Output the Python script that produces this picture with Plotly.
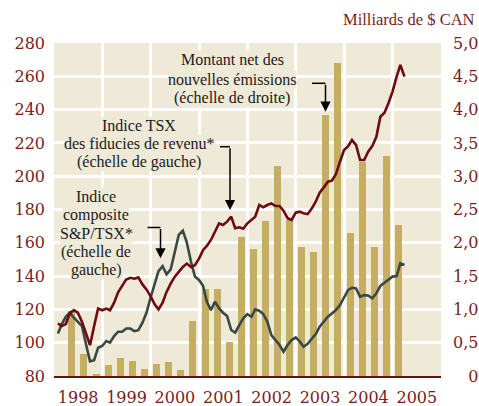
import pandas as pd
import plotly.graph_objects as go

# ---- data -------------------------------------------------------------
# Monthly index levels (left scale), Jan 1998 .. Mar 2005
income_trust_index = [
    111.6, 110.0, 111.2, 117.6, 119.6, 118.0, 112.6, 106.0, 98.5, 110.0, 120.5, 119.5,
    120.5, 119.5, 124.0, 130.3, 134.5, 138.0, 139.0, 138.4, 139.2, 135.0, 132.0, 128.0,
    123.0, 120.0, 124.0, 130.5, 135.5, 139.5, 142.5, 145.5, 147.5, 145.5, 146.5, 150.5,
    155.7, 158.1, 161.7, 166.7, 171.7, 170.7, 172.7, 175.7, 168.7, 169.3, 168.4, 171.7,
    173.7, 175.7, 182.7, 181.3, 182.7, 183.7, 182.1, 182.1, 179.3, 174.7, 173.7, 178.1,
    178.7, 177.7, 177.2, 180.4, 184.7, 190.1, 193.3, 196.7, 197.3, 201.3, 208.7, 215.7,
    218.1, 221.7, 218.7, 209.7, 209.7, 214.7, 218.1, 223.7, 235.7, 238.1, 243.8, 250.8,
    259.8, 266.8, 259.8,
]
composite_index = [
    105.5, 111.0, 115.5, 118.0, 115.0, 112.5, 110.0, 99.0, 88.8, 89.5, 97.0, 98.0,
    101.0, 100.0, 104.0, 106.6, 106.6, 108.5, 108.5, 107.0, 107.5, 112.0, 118.0, 127.0,
    135.5, 143.0, 146.0, 141.0, 144.0, 153.7, 164.7, 167.3, 160.2, 148.7, 139.7, 137.7,
    134.1, 124.6, 119.6, 124.6, 120.7, 118.0, 116.0, 107.6, 106.0, 110.6, 114.6, 117.2,
    115.6, 120.0, 119.2, 117.2, 112.6, 104.6, 101.6, 98.6, 94.6, 98.6, 101.6, 103.2,
    100.6, 97.6, 99.3, 102.0, 105.2, 109.6, 112.6, 115.6, 117.6, 119.6, 122.6, 127.6,
    131.7, 133.0, 132.6, 127.6, 128.6, 128.4, 126.7, 129.7, 134.1, 136.0, 138.1, 139.7,
    140.0, 147.7, 146.7,
]
# Quarterly net new issues (right scale, billions of C$), Q2 1998 .. Q1 2005
net_new_issues = [
    0.97, 0.33, 0.03, 0.165, 0.265, 0.23, 0.10, 0.185, 0.215, 0.09, 0.83, 1.31,
    1.31, 0.515, 2.08, 1.90, 2.33, 3.15, 2.34, 1.93, 1.86, 3.92, 4.70, 2.14,
    3.22, 1.94, 3.30, 2.27,
]
left_ticks = [80, 100, 120, 140, 160, 180, 200, 220, 240, 260, 280]
right_ticks = [0, 0.5, 1.0, 1.5, 2.0, 2.5, 3.0, 3.5, 4.0, 4.5, 5.0]
right_ticktext = ["\u00a0\u00a0\u00a00", "0,5", "1,0", "1,5", "2,0", "2,5",
                  "3,0", "3,5", "4,0", "4,5", "5,0"]
unit_title = "Milliards de $ CAN"
label_issues = ["Montant net des", "nouvelles émissions", "(échelle de droite)"]
label_trust = ["Indice TSX", "des fiducies de revenu*", "(échelle de gauche)"]
label_comp = ["Indice", "composite", "S&amp;P/TSX*", "(échelle de", "gauche)"]

months = pd.date_range("1998-01-31", periods=len(income_trust_index), freq="ME")
quarters = pd.date_range("1998-04-01", periods=len(net_new_issues), freq="QS") + pd.Timedelta(days=45)

# ---- styling ----------------------------------------------------------
BG = "#efe9d8"
BAR = "#c5ae62"
RED = "#6c0b12"
GRAY = "#3a4845"
TICK = "#7b1c22"
TXT = "#1b1b1b"

W, H = 479, 406
L, R, T, B = 54, 38, 43, 30
PW, PH = W - L - R, H - T - B


def px(x):
    return (x - L) / PW


def py(y):
    return (H - B - y) / PH


fig = go.Figure()
fig.add_trace(go.Bar(x=quarters, y=net_new_issues, marker_color=BAR,
                     marker_line_width=0, width=53 * 86400000, yaxis="y"))
fig.add_trace(go.Scatter(x=months, y=composite_index, mode="lines",
                         line=dict(color=GRAY, width=2.6), yaxis="y2"))
fig.add_trace(go.Scatter(x=months, y=income_trust_index, mode="lines",
                         line=dict(color=RED, width=2.6), yaxis="y2"))

tickfont = dict(family="DejaVu Serif", size=16, color=TICK)

annotations = []
shapes = []


def text_block(lines, xc, ys):
    for t, yy in zip(lines, ys):
        annotations.append(dict(text=t, x=px(xc), y=py(yy), xref="paper", yref="paper",
                                xanchor="center", yanchor="middle", showarrow=False,
                                bgcolor=BG, borderpad=0,
                                font=dict(family="Liberation Serif", size=16, color=TXT)))


def bent_arrow(x0, x1, y0, ytip):
    shapes.append(dict(type="line", xref="paper", yref="paper",
                       x0=px(x0), x1=px(x1), y0=py(y0), y1=py(y0),
                       line=dict(color="black", width=1.5)))
    annotations.append(dict(text="", x=px(x1), y=py(ytip), xref="paper", yref="paper",
                            showarrow=True, ax=0, ay=-(ytip - y0), arrowhead=2,
                            arrowsize=1.35, arrowwidth=1.5, arrowcolor="black",
                            standoff=0))


text_block(label_issues, 232, [60, 79.3, 98.3])
text_block(label_trust, 139, [125, 143.3, 162])
text_block(label_comp, 96, [196.7, 215, 233.3, 251.7, 270])
bent_arrow(312, 325.5, 83.3, 111.7)
bent_arrow(220, 230, 146.7, 210)
bent_arrow(147.5, 160.5, 227.5, 258.3)

annotations.append(dict(text=unit_title, x=px(477), y=py(20), xref="paper", yref="paper",
                        xanchor="right", yanchor="middle", showarrow=False,
                        font=dict(family="Liberation Serif", size=16.5, color=TICK)))

fig.update_layout(
    width=W, height=H,
    margin=dict(l=L, r=R, t=T, b=B, pad=0, autoexpand=False),
    paper_bgcolor="white", plot_bgcolor=BG,
    showlegend=False, bargap=0, hovermode=False,
    xaxis=dict(type="date", range=["1998-01-01", "2006-01-01"], dtick="M12",
               tick0="1998-01-01", tickformat="%Y", ticklabelmode="period",
               showgrid=True, gridcolor="white", gridwidth=3, ticks="",
               showline=True, linecolor=RED, linewidth=2, tickfont=tickfont,
               ticklabelstandoff=6, automargin=False, fixedrange=True),
    yaxis=dict(side="right", range=[0, 5], tickvals=right_ticks, ticktext=right_ticktext,
               showgrid=True, gridcolor="white", gridwidth=3, zeroline=False, ticks="",
               tickfont=tickfont, ticklabelstandoff=11, automargin=False, fixedrange=True),
    yaxis2=dict(side="left", overlaying="y", range=[80, 280], tickvals=left_ticks,
                showgrid=False, zeroline=False, ticks="", tickfont=tickfont,
                ticklabelstandoff=8, automargin=False, fixedrange=True),
    annotations=annotations, shapes=shapes,
)

fig.write_html("out.html", config={"displayModeBar": False, "staticPlot": True},
               post_script="document.body.style.margin='0px';document.body.style.overflow='hidden';")
